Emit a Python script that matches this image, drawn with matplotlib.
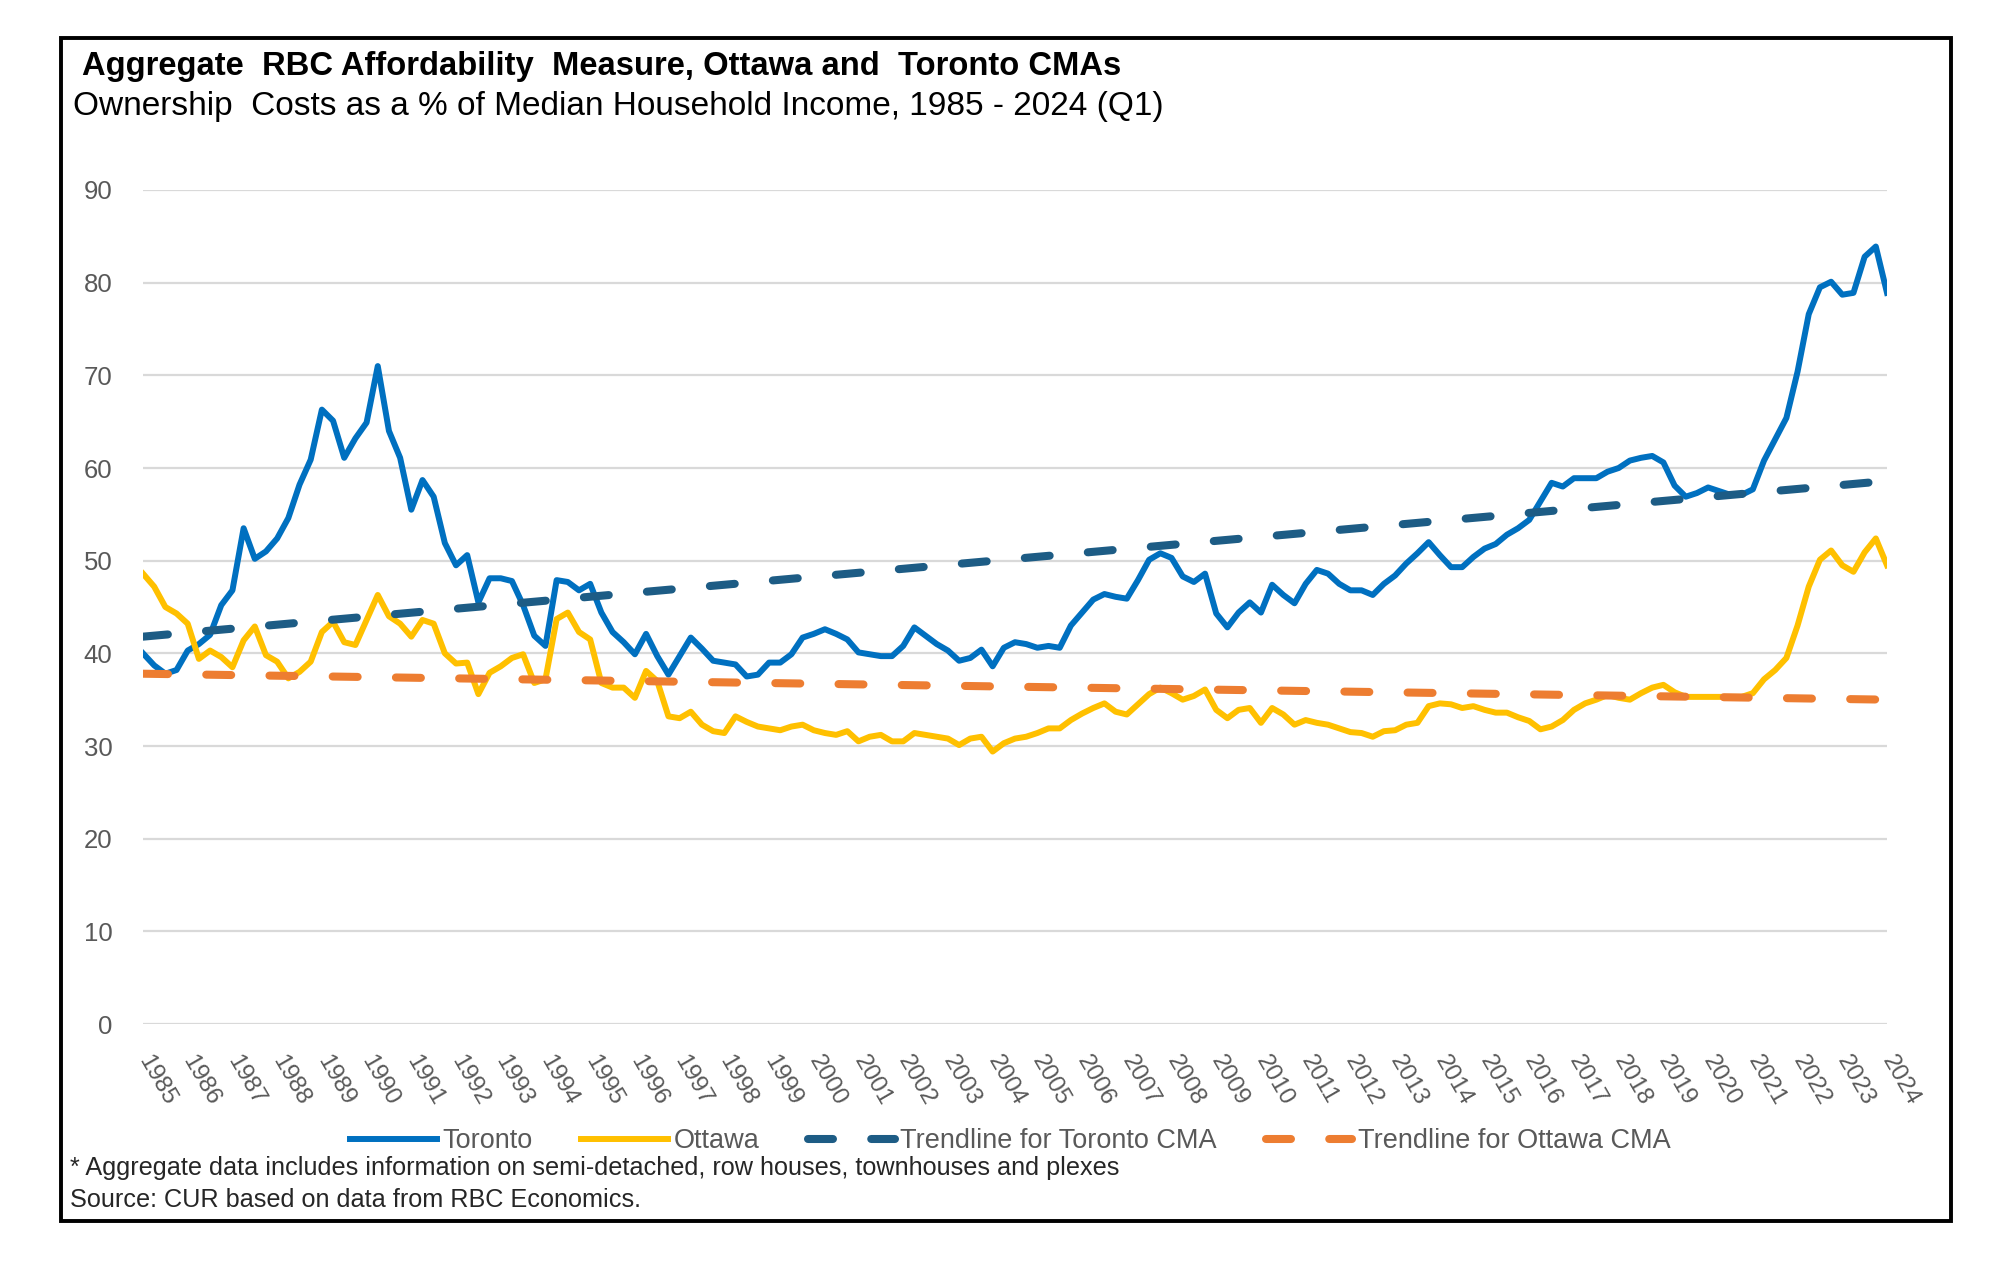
"""
Aggregate RBC Affordability Measure, Ottawa and Toronto CMAs (1985 Q1 - 2024 Q1).
Saves: out.png
"""
import matplotlib
matplotlib.use("Agg")
import matplotlib.pyplot as plt
from matplotlib.lines import Line2D
from matplotlib.patches import Rectangle
import numpy as np

plt.rcParams["font.family"] = ["Liberation Sans", "DejaVu Sans"]

# ── Data (quarterly, % of median household income) ───────────────────────────
years = [str(y) for y in range(1985, 2025)]

toronto = [
    # 1985 Q1 - 1992 Q1
    40.0, 38.7, 37.8, 38.2, 40.3, 41.0, 42.0, 45.2, 46.8, 53.5, 50.2, 51.0, 52.4, 54.6, 58.2,
    60.9, 66.3, 65.1, 61.1, 63.2, 64.9, 71.0, 64.0, 61.1, 55.5, 58.7, 56.9, 51.9, 49.5,
    # 1992 Q2 - 1999 Q1
    50.6, 45.5, 48.1, 48.1, 47.8, 45.2, 41.9, 40.8, 47.9, 47.7, 46.8, 47.5, 44.4, 42.3, 41.2,
    39.9, 42.1, 39.7, 37.7, 39.7, 41.7, 40.5, 39.2, 39.0, 38.8, 37.5, 37.7, 39.0,
    # 1999 Q2 - 2006 Q2
    39.0, 39.9, 41.7, 42.1, 42.6, 42.1, 41.5, 40.1, 39.9, 39.7, 39.7, 40.8, 42.8, 41.9, 41.0,
    40.3, 39.2, 39.5, 40.4, 38.6, 40.6, 41.2, 41.0, 40.6, 40.8, 40.6, 43.0, 44.4, 45.8,
    # 2006 Q3 - 2013 Q3
    46.4, 46.1, 45.9, 47.9, 50.1, 50.8, 50.3, 48.3, 47.7, 48.6, 44.3, 42.8, 44.4, 45.5, 44.4,
    47.4, 46.3, 45.4, 47.5, 49.0, 48.6, 47.5, 46.8, 46.8, 46.3, 47.5, 48.4, 49.7, 50.8,
    # 2013 Q4 - 2018 Q4
    52.0, 50.6, 49.3, 49.3, 50.4, 51.3, 51.8, 52.8, 53.5, 54.4, 56.4, 58.4, 58.0, 58.9, 58.9,
    58.9, 59.6, 60.0, 60.8, 61.1, 61.3,
    # 2019 Q1 - 2024 Q1
    60.6, 58.1, 56.9, 57.3, 57.9, 57.5, 57.1, 57.1, 57.7, 60.8, 63.1, 65.4, 70.4, 76.6, 79.5,
    80.1, 78.7, 78.9, 82.8, 83.9, 78.9,
]

ottawa = [
    # 1985 Q1 - 1992 Q1
    48.6, 47.2, 45.0, 44.3, 43.2, 39.4, 40.3, 39.6, 38.5, 41.4, 42.9, 39.8, 39.1, 37.3, 38.0,
    39.1, 42.3, 43.4, 41.2, 40.9, 43.6, 46.3, 44.0, 43.2, 41.8, 43.6, 43.2, 40.0, 38.9,
    # 1992 Q2 - 1999 Q1
    39.0, 35.6, 37.9, 38.6, 39.5, 39.9, 36.8, 37.2, 43.7, 44.4, 42.3, 41.5, 36.8, 36.3, 36.3,
    35.2, 38.1, 37.0, 33.2, 33.0, 33.7, 32.3, 31.6, 31.4, 33.2, 32.6, 32.1, 31.9,
    # 1999 Q2 - 2006 Q2
    31.7, 32.1, 32.3, 31.7, 31.4, 31.2, 31.6, 30.5, 31.0, 31.2, 30.5, 30.5, 31.4, 31.2, 31.0,
    30.8, 30.1, 30.8, 31.0, 29.4, 30.3, 30.8, 31.0, 31.4, 31.9, 31.9, 32.8, 33.5, 34.1,
    # 2006 Q3 - 2013 Q3
    34.6, 33.7, 33.4, 34.5, 35.6, 36.3, 35.7, 35.0, 35.4, 36.1, 33.9, 33.0, 33.9, 34.1, 32.5,
    34.1, 33.4, 32.3, 32.8, 32.5, 32.3, 31.9, 31.5, 31.4, 31.0, 31.6, 31.7, 32.3, 32.5,
    # 2013 Q4 - 2018 Q4
    34.3, 34.6, 34.5, 34.1, 34.3, 33.9, 33.6, 33.6, 33.1, 32.7, 31.8, 32.1, 32.8, 33.9, 34.6,
    35.0, 35.5, 35.2, 35.0, 35.7, 36.3,
    # 2019 Q1 - 2024 Q1
    36.6, 35.8, 35.3, 35.3, 35.3, 35.3, 35.3, 35.3, 35.7, 37.2, 38.2, 39.5, 43.0, 47.2, 50.1,
    51.1, 49.5, 48.8, 50.9, 52.4, 49.5,
]

# linear trendlines: value at first and last quarter
trend_toronto = [41.8, 58.6]
trend_ottawa = [37.8, 35.0]

# ── Style ─────────────────────────────────────────────────────────────────────
BLUE = "#0070C0"
GOLD = "#FFC000"
TEAL = "#1D5C85"
ORANGE = "#ED7D31"
GRID = "#D9D9D9"
GREY_TXT = "#595959"

W, H = 1989, 1264
fig = plt.figure(figsize=(W / 100, H / 100), dpi=100)
fig.patch.set_facecolor("white")

ax = fig.add_axes([143 / W, 1 - 1024 / H, (1887 - 143) / W, (1024 - 190) / H])

x = np.arange(len(toronto))
x_tr = [x[0], x[-1]]
ax.plot(x, toronto, color=BLUE, lw=4.3, solid_joinstyle="round", zorder=3)
ax.plot(x, ottawa, color=GOLD, lw=4.3, solid_joinstyle="round", zorder=3)
ax.plot(x_tr, trend_toronto, color=TEAL, lw=5.8, dashes=(3.1, 4.75),
        dash_capstyle="round", zorder=4)
ax.plot(x_tr, trend_ottawa, color=ORANGE, lw=5.8, dashes=(3.1, 4.75),
        dash_capstyle="round", zorder=4)

ax.set_xlim(0, len(toronto) - 1)
ax.set_ylim(0, 90)
ax.set_yticks(range(0, 91, 10))
ax.set_xticks(x[::4])
ax.set_xticklabels(years, rotation=-60, ha="left", va="center", rotation_mode="anchor")
ax.tick_params(axis="x", length=0, pad=24, labelsize=17.5, labelcolor=GREY_TXT)
ax.tick_params(axis="y", length=0, pad=22, labelsize=18.5, labelcolor=GREY_TXT)
ax.grid(axis="y", color=GRID, lw=1.6, zorder=0)
ax.set_axisbelow(True)
for s in ax.spines.values():
    s.set_visible(False)

# ── Legend ────────────────────────────────────────────────────────────────────
handles = [
    Line2D([], [], color=BLUE, lw=4.3),
    Line2D([], [], color=GOLD, lw=4.3),
    Line2D([], [], color=TEAL, lw=5.8, dashes=(3.1, 4.75), dash_capstyle="round"),
    Line2D([], [], color=ORANGE, lw=5.8, dashes=(3.1, 4.75), dash_capstyle="round"),
]
labels = ["Toronto", "Ottawa", "Trendline for Toronto CMA", "Trendline for Ottawa CMA"]
fig.legend(handles, labels, loc="center", bbox_to_anchor=(0.508, 1 - 1141 / H),
           ncol=4, frameon=False, fontsize=19.5, handlelength=3.2, handletextpad=0.2,
           columnspacing=1.8, labelcolor=GREY_TXT)

# ── Titles and notes ──────────────────────────────────────────────────────────
title = fig.text(82 / W, 1 - 66 / H,
                 "Aggregate  RBC Affordability  Measure, Ottawa and  Toronto CMAs",
                 fontsize=22, fontweight="bold", va="center", color="black")
subtitle = fig.text(73 / W, 1 - 107 / H,
                    "Ownership  Costs as a % of Median Household Income, 1985 - 2024 (Q1)",
                    fontsize=22, va="center", color="black")
note1 = fig.text(70 / W, 1 - 1168 / H,
                 "* Aggregate data includes information on semi-detached, row houses, "
                 "townhouses and plexes", fontsize=16, va="center", color="#262626")
note2 = fig.text(70 / W, 1 - 1200 / H, "Source: CUR based on data from RBC Economics.",
                 fontsize=16, va="center", color="#262626")


def fit_width(t, width_px):
    fig.canvas.draw()
    w = t.get_window_extent().width
    t.set_fontsize(t.get_fontsize() * width_px / w)


fit_width(title, 1040)
fit_width(subtitle, 1090)
fit_width(note1, 1049)
note2.set_fontsize(note1.get_fontsize())

# outer frame
fig.add_artist(Rectangle((61 / W, 1 - 1221 / H), (1951 - 61) / W, (1221 - 38) / H,
                         transform=fig.transFigure, fill=False, lw=2.8, ec="black"))

fig.savefig("out.png", dpi=100)
print("saved out.png", len(toronto), len(ottawa))
